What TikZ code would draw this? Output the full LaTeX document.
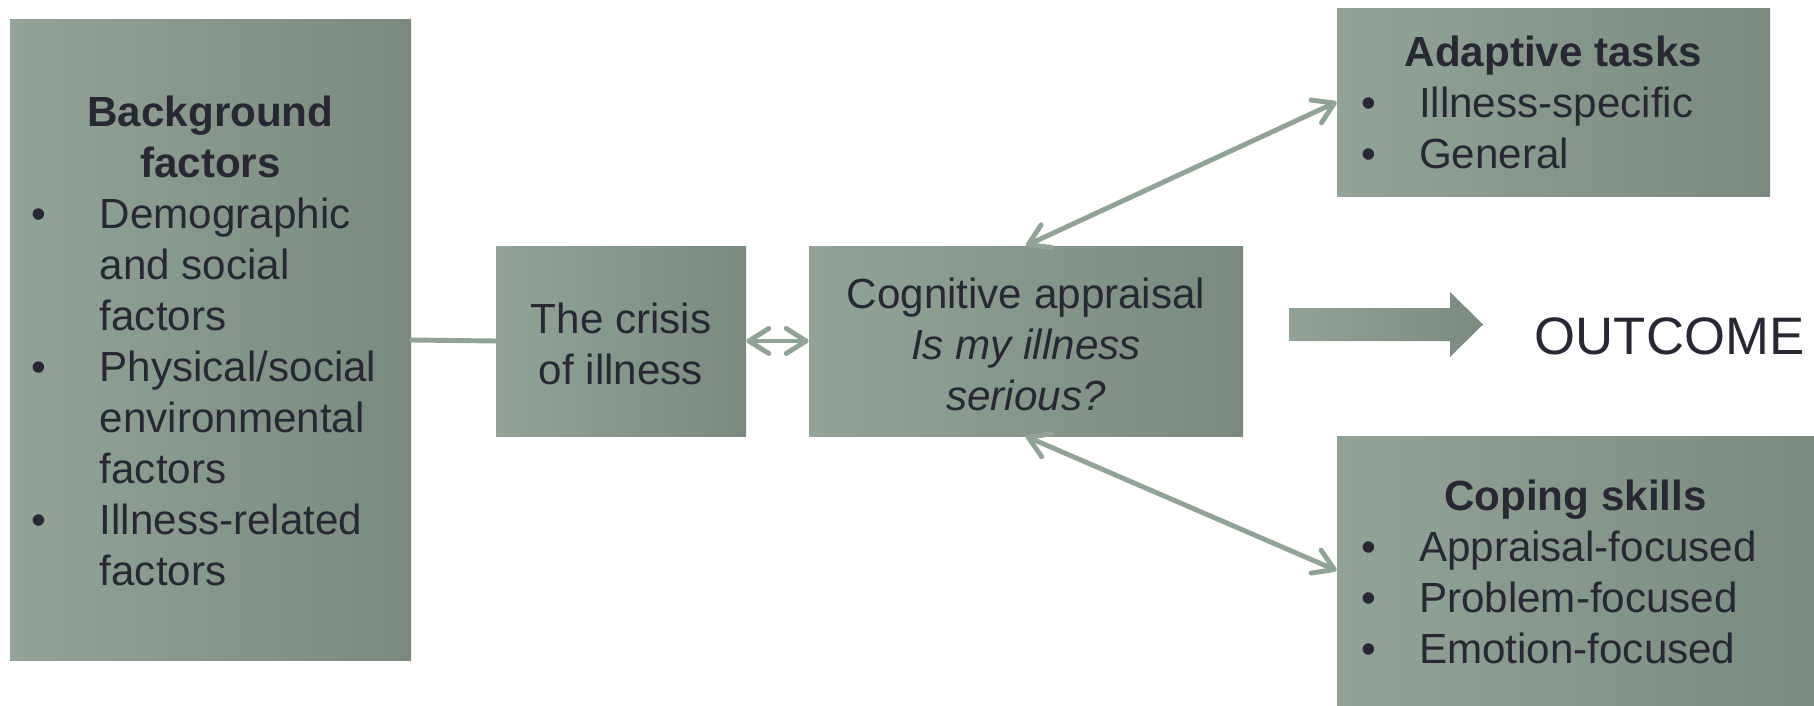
\documentclass[tikz,border=0pt]{standalone}
\usepackage{fontspec}
\setmainfont{Liberation Sans}
\usepackage{array}
\usepackage{tikz}
\usetikzlibrary{arrows.meta}
\usepackage{xcolor}
\definecolor{boxlight}{RGB}{146,163,151}
\definecolor{boxdark}{RGB}{121,138,126}
\definecolor{linkcol}{RGB}{143,163,151}
\definecolor{inkcol}{RGB}{40,40,52}
% taller first row, pushes the list a little down in its box
\newcommand{\toprow}{\rule{0pt}{27pt}}

\begin{document}
\begin{tikzpicture}[
      box/.style={inner sep=0, left color=boxlight, right color=boxdark,
                  font=\fontsize{24}{29}\selectfont, text=inkcol, align=center},
      link/.style={draw=linkcol, line width=2.8pt, line cap=round},
      >={Straight Barb[length=0.4cm, width=0.5cm, round]},
    ]
    \useasboundingbox (0,0) rectangle (36.28,14.1);

    % ---- LEFT: background factors ----
    \node[box, minimum width=8.02cm, minimum height=12.8cm] (bg) at (4.21,7.30) {%
      \begin{tabular}{@{}p{1.37cm}@{}p{5.8cm}@{}}
        \multicolumn{2}{c}{\toprow\textbf{Background}}\\
        \multicolumn{2}{c}{\textbf{factors}}\\
        \textbullet & Demographic\\
                    & and social\\
                    & factors\\
        \textbullet & Physical/social\\
                    & environmental\\
                    & factors\\
        \textbullet & Illness-related\\
                    & factors
      \end{tabular}};

    % ---- MIDDLE: crisis and appraisal ----
    \node[box, minimum width=5.0cm, minimum height=3.8cm] (crisis) at (12.42,7.28)
      {\rule{0pt}{21pt}The crisis\\of illness};
    \node[box, minimum width=8.68cm, minimum height=3.8cm] (cog) at (20.52,7.28)
      {\rule{0pt}{21pt}Cognitive appraisal\\\textit{Is my illness}\\\textit{serious?}};

    % ---- RIGHT: tasks and skills ----
    \node[box, minimum width=8.66cm, minimum height=3.76cm] (adapt) at (31.07,12.06) {%
      \begin{tabular}{@{}p{1.16cm}@{}p{6.54cm}@{}}
        \multicolumn{2}{c}{\rule{0pt}{26pt}\textbf{Adaptive tasks}}\\
        \textbullet & Illness-specific\\
        \textbullet & General
      \end{tabular}};
    \node[box, minimum width=9.54cm, minimum height=5.38cm] (coping) at (31.51,2.69) {%
      \begin{tabular}{@{}p{1.16cm}@{}p{7.42cm}@{}}
        \multicolumn{2}{c}{\toprow\textbf{Coping skills}}\\
        \textbullet & Appraisal-focused\\
        \textbullet & Problem-focused\\
        \textbullet & Emotion-focused
      \end{tabular}};

    % Block arrow to outcome
    \shade[left color=boxlight, right color=boxdark]
      (25.78,7.28) -- (25.78,7.94) -- (29.0,7.94) -- (29.0,8.26)
      -- (29.66,7.61) -- (29.0,6.96) -- (29.0,7.28) -- cycle;
    \node[font=\fontsize{30}{36}\selectfont, text=inkcol] (outcome) at (33.39,7.38) {OUTCOME};

    % Connectors
    \draw[link] (bg.east) -- (crisis.west);
    \draw[link, <->] (crisis) -- (cog);
    \draw[link, <->] (cog.north) -- (adapt.west);
    \draw[link, <->] (cog.south) -- (coping.west);

  \end{tikzpicture}
\end{document}
